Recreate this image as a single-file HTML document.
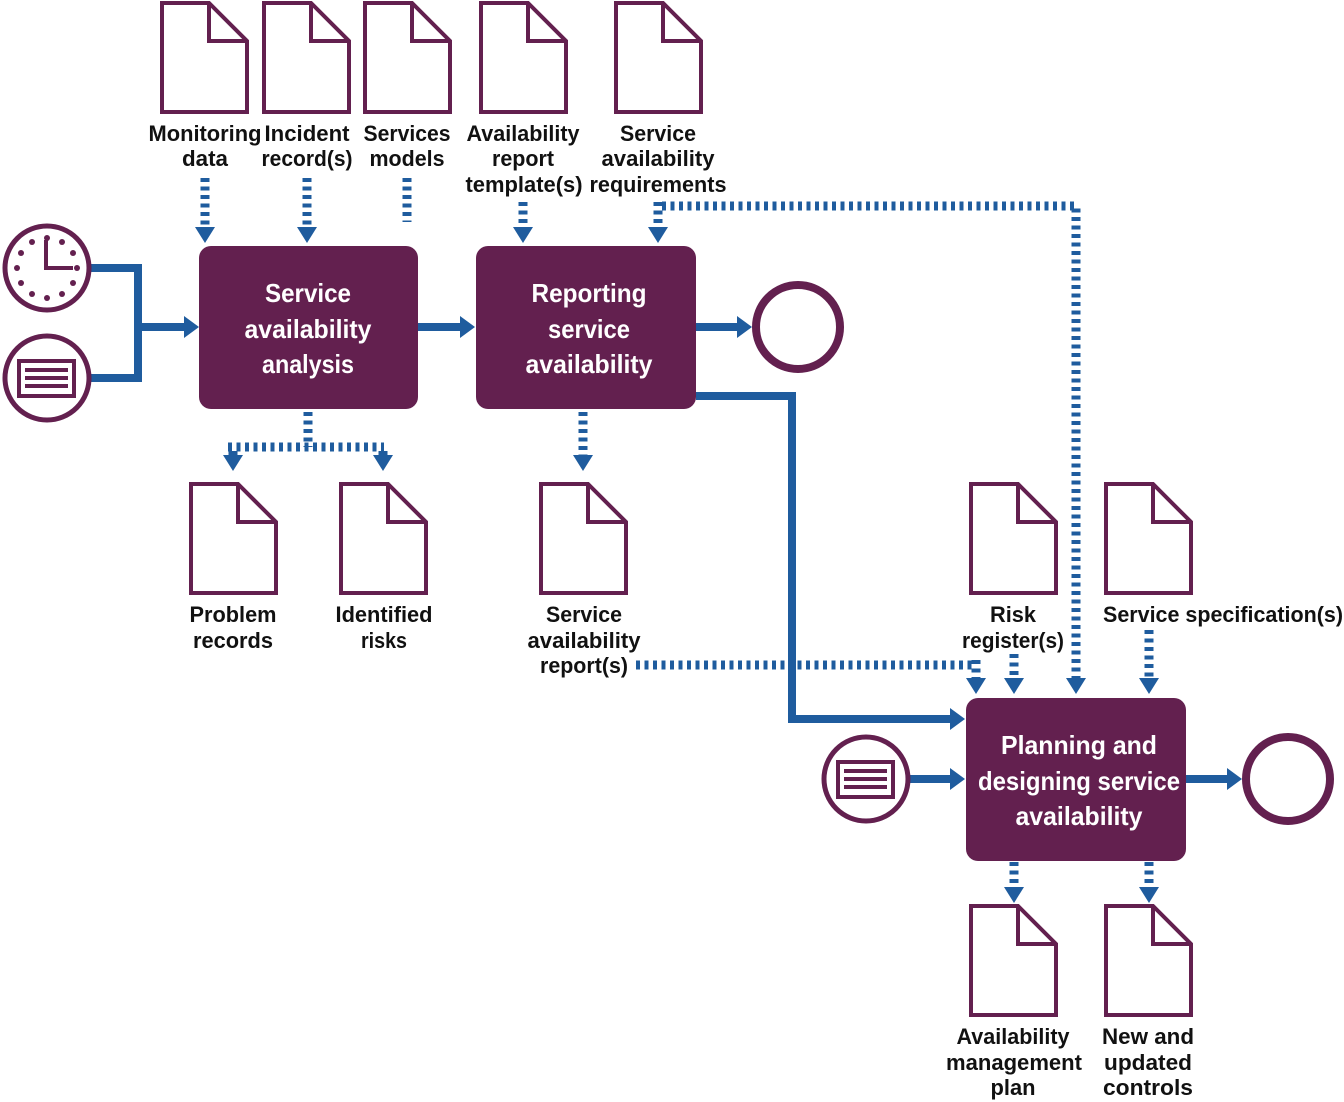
<!DOCTYPE html>
<html><head><meta charset="utf-8"><style>
html,body{margin:0;padding:0;background:#fff;}
svg{display:block;}
text{font-family:"Liberation Sans",sans-serif;font-weight:bold;text-anchor:middle;}
.l{font-size:22px;fill:#111;}
.b{font-size:26px;fill:#fff;}
.doc{fill:#fff;stroke:#63204F;stroke-width:4;stroke-linejoin:miter;}
.dot{fill:none;stroke:#1F5C9E;stroke-width:9;stroke-dasharray:4 4.5;}
.sol{fill:none;stroke:#1F5C9E;stroke-width:8;}
.ar{fill:#1F5C9E;}
</style></head><body>
<svg width="1344" height="1102" viewBox="0 0 1344 1102" xmlns="http://www.w3.org/2000/svg">
<defs>
<g id="doc"><path class="doc" d="M2,2 H49 L87,40 V111 H2 Z M49,2 V40 H87"/></g>
</defs>
<use href="#doc" x="160" y="1"/>
<use href="#doc" x="262" y="1"/>
<use href="#doc" x="363" y="1"/>
<use href="#doc" x="479" y="1"/>
<use href="#doc" x="614" y="1"/>
<use href="#doc" x="189" y="482"/>
<use href="#doc" x="339" y="482"/>
<use href="#doc" x="539" y="482"/>
<use href="#doc" x="969" y="482"/>
<use href="#doc" x="1104" y="482"/>
<use href="#doc" x="969" y="904"/>
<use href="#doc" x="1104" y="904"/>

<g lengthAdjust="spacingAndGlyphs">
<text class="l" x="205" y="141" textLength="113" lengthAdjust="spacingAndGlyphs">Monitoring</text><text class="l" x="205" y="166" textLength="46" lengthAdjust="spacingAndGlyphs">data</text>
<text class="l" x="307" y="141" textLength="85" lengthAdjust="spacingAndGlyphs">Incident</text><text class="l" x="307" y="166" textLength="91" lengthAdjust="spacingAndGlyphs">record(s)</text>
<text class="l" x="407" y="141" textLength="87" lengthAdjust="spacingAndGlyphs">Services</text><text class="l" x="407" y="166" textLength="75" lengthAdjust="spacingAndGlyphs">models</text>
<text class="l" x="523" y="141" textLength="113" lengthAdjust="spacingAndGlyphs">Availability</text><text class="l" x="523" y="166" textLength="62" lengthAdjust="spacingAndGlyphs">report</text><text class="l" x="524" y="192" textLength="117" lengthAdjust="spacingAndGlyphs">template(s)</text>
<text class="l" x="658" y="141" textLength="76" lengthAdjust="spacingAndGlyphs">Service</text><text class="l" x="658" y="166" textLength="113" lengthAdjust="spacingAndGlyphs">availability</text><text class="l" x="658" y="192" textLength="137" lengthAdjust="spacingAndGlyphs">requirements</text>
<text class="l" x="233" y="622" textLength="87" lengthAdjust="spacingAndGlyphs">Problem</text><text class="l" x="233" y="648" textLength="80" lengthAdjust="spacingAndGlyphs">records</text>
<text class="l" x="384" y="622" textLength="97" lengthAdjust="spacingAndGlyphs">Identified</text><text class="l" x="384" y="648" textLength="46" lengthAdjust="spacingAndGlyphs">risks</text>
<text class="l" x="584" y="622" textLength="76" lengthAdjust="spacingAndGlyphs">Service</text><text class="l" x="584" y="648" textLength="113" lengthAdjust="spacingAndGlyphs">availability</text><text class="l" x="584" y="673" textLength="88" lengthAdjust="spacingAndGlyphs">report(s)</text>
<text class="l" x="1013" y="622" textLength="46" lengthAdjust="spacingAndGlyphs">Risk</text><text class="l" x="1013" y="648" textLength="102" lengthAdjust="spacingAndGlyphs">register(s)</text>
<text class="l" x="1223" y="622" textLength="240" lengthAdjust="spacingAndGlyphs">Service specification(s)</text>
<text class="l" x="1013" y="1044" textLength="113" lengthAdjust="spacingAndGlyphs">Availability</text><text class="l" x="1014" y="1070" textLength="136" lengthAdjust="spacingAndGlyphs">management</text><text class="l" x="1013" y="1095" textLength="45" lengthAdjust="spacingAndGlyphs">plan</text>
<text class="l" x="1148" y="1044" textLength="92" lengthAdjust="spacingAndGlyphs">New and</text><text class="l" x="1148" y="1070" textLength="88" lengthAdjust="spacingAndGlyphs">updated</text><text class="l" x="1148" y="1095" textLength="90" lengthAdjust="spacingAndGlyphs">controls</text>
</g>

<path class="sol" d="M90,268 H138 V378 H90"/>
<path class="sol" d="M138,327 H186"/><path class="ar" d="M184,316 L199,327 L184,338Z"/>
<path class="sol" d="M418,327 H462"/><path class="ar" d="M460,316 L475,327 L460,338Z"/>
<path class="sol" d="M696,327 H739"/><path class="ar" d="M737,316 L752,327 L737,338Z"/>
<path class="sol" d="M696,396 H792 V719 H952"/><path class="ar" d="M950,708 L965,719 L950,730Z"/>
<path class="sol" d="M910,779 H952"/><path class="ar" d="M950,768 L965,779 L950,790Z"/>
<path class="sol" d="M1186,779 H1229"/><path class="ar" d="M1227,768 L1242,779 L1227,790Z"/>

<path class="dot" d="M205,178 V229"/><path class="ar" d="M195,227 L215,227 L205,243Z"/>
<path class="dot" d="M307,178 V229"/><path class="ar" d="M297,227 L317,227 L307,243Z"/>
<path class="dot" d="M407,178 V222"/>
<path class="dot" d="M523,202 V229"/><path class="ar" d="M513,227 L533,227 L523,243Z"/>
<path class="dot" d="M658,202 V229"/><path class="ar" d="M648,227 L668,227 L658,243Z"/>
<path class="dot" d="M662,206 H1076 V680"/><path class="ar" d="M1066,678 L1086,678 L1076,694Z"/>
<path class="dot" d="M308,412 V447"/>
<path class="dot" d="M228,447 H384 M233,451 V457 M383,451 V457"/>
<path class="ar" d="M223,455 L243,455 L233,471Z"/><path class="ar" d="M373,455 L393,455 L383,471Z"/>
<path class="dot" d="M583,412 V456"/><path class="ar" d="M573,455 L593,455 L583,471Z"/>
<path class="dot" d="M636,665 H972 M976,660 V681"/><path class="ar" d="M966,678 L986,678 L976,694Z"/>
<path class="dot" d="M1014,654 V680"/><path class="ar" d="M1004,678 L1024,678 L1014,694Z"/>
<path class="dot" d="M1149,630 V680"/><path class="ar" d="M1139,678 L1159,678 L1149,694Z"/>
<path class="dot" d="M1014,862 V888"/><path class="ar" d="M1004,887 L1024,887 L1014,903Z"/>
<path class="dot" d="M1149,862 V888"/><path class="ar" d="M1139,887 L1159,887 L1149,903Z"/>

<rect x="199" y="246" width="219" height="163" rx="12" fill="#63204F"/>
<text class="b" x="308" y="302" textLength="86" lengthAdjust="spacingAndGlyphs">Service</text><text class="b" x="308" y="338" textLength="127" lengthAdjust="spacingAndGlyphs">availability</text><text class="b" x="308" y="373" textLength="92" lengthAdjust="spacingAndGlyphs">analysis</text>
<rect x="476" y="246" width="220" height="163" rx="12" fill="#63204F"/>
<text class="b" x="589" y="302" textLength="115" lengthAdjust="spacingAndGlyphs">Reporting</text><text class="b" x="589" y="338" textLength="82" lengthAdjust="spacingAndGlyphs">service</text><text class="b" x="589" y="373" textLength="127" lengthAdjust="spacingAndGlyphs">availability</text>
<rect x="966" y="698" width="220" height="163" rx="12" fill="#63204F"/>
<text class="b" x="1079" y="754" textLength="156" lengthAdjust="spacingAndGlyphs">Planning and</text><text class="b" x="1079" y="790" textLength="202" lengthAdjust="spacingAndGlyphs">designing service</text><text class="b" x="1079" y="825" textLength="127" lengthAdjust="spacingAndGlyphs">availability</text>

<circle cx="47" cy="268" r="42" fill="#fff" stroke="#63204F" stroke-width="5"/>
<g fill="#63204F">
<circle cx="47" cy="238" r="3"/><circle cx="62" cy="242" r="3"/><circle cx="73" cy="253" r="3"/><circle cx="77" cy="268" r="3"/><circle cx="73" cy="283" r="3"/><circle cx="62" cy="294" r="3"/><circle cx="47" cy="298" r="3"/><circle cx="32" cy="294" r="3"/><circle cx="21" cy="283" r="3"/><circle cx="17" cy="268" r="3"/><circle cx="21" cy="253" r="3"/><circle cx="32" cy="242" r="3"/>
</g>
<path d="M46,240 V268 H73" fill="none" stroke="#63204F" stroke-width="4"/>
<circle cx="47" cy="378" r="42" fill="#fff" stroke="#63204F" stroke-width="5"/>
<rect x="19" y="361" width="55" height="35" fill="none" stroke="#63204F" stroke-width="4"/>
<path d="M25,370 H68 M25,378 H68 M25,386 H68" stroke="#63204F" stroke-width="4"/>
<circle cx="866" cy="779" r="42" fill="#fff" stroke="#63204F" stroke-width="5"/>
<rect x="838" y="762" width="55" height="35" fill="none" stroke="#63204F" stroke-width="4"/>
<path d="M844,771 H887 M844,779 H887 M844,787 H887" stroke="#63204F" stroke-width="4"/>
<circle cx="798" cy="327" r="42" fill="#fff" stroke="#63204F" stroke-width="8"/>
<circle cx="1288" cy="779" r="42" fill="#fff" stroke="#63204F" stroke-width="8"/>
</svg>
</body></html>
